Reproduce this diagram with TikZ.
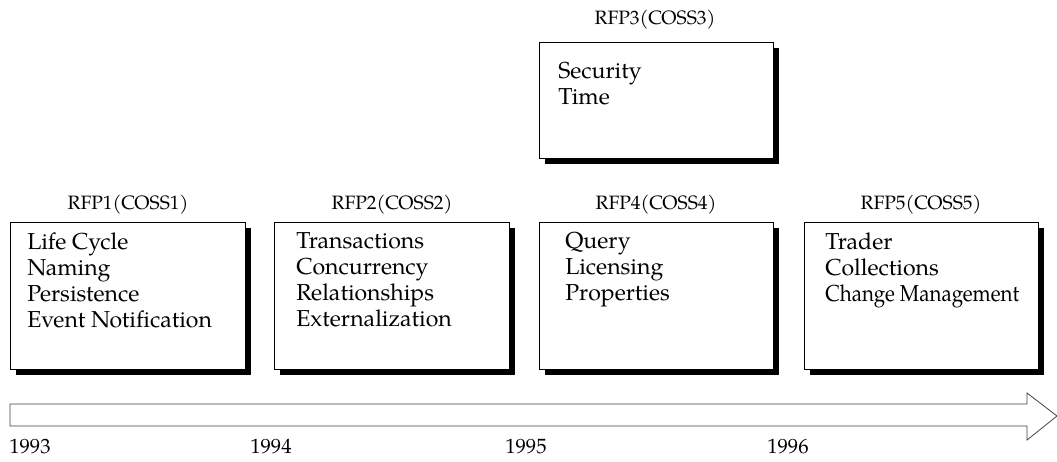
\documentclass[tikz,border=0pt]{standalone}
\usepackage{graphicx}
\usepackage{fontspec}
\setmainfont{TeX Gyre Pagella}
\begin{document}
\begin{tikzpicture}[x=0.75pt,y=-0.75pt,
  box/.style={draw=black, line width=0.9pt, fill=white, rectangle, inner sep=0pt, anchor=north west},
  shadowbox/.style={fill=black, draw=none, rectangle, inner sep=0pt, anchor=north west},
  title/.style={font=\fontsize{14.5}{17}\selectfont, inner sep=0pt},
  items/.style={font=\fontsize{17.3}{19.5}\selectfont, align=left, anchor=north west, inner sep=0pt},
  year/.style={font=\fontsize{15.5}{18}\selectfont, inner sep=0pt, anchor=west}]
\useasboundingbox (0,0) rectangle (1057,461);
% shadows
\foreach \x/\y/\w/\h/\n in {10/222/235/147/s1, 274/222/235/147/s2, 539/222/234/147/s4, 804/222/234/147/s5, 539/42/234/116/s3}{
  \node[shadowbox, minimum width=\w*0.75pt, minimum height=\h*0.75pt] (\n) at (\x+6,\y+6) {};
}
% boxes
\node[box, minimum width=235*0.75pt, minimum height=147*0.75pt] (b1) at (10,222) {};
\node[box, minimum width=235*0.75pt, minimum height=147*0.75pt] (b2) at (274,222) {};
\node[box, minimum width=234*0.75pt, minimum height=147*0.75pt] (b4) at (539,222) {};
\node[box, minimum width=234*0.75pt, minimum height=147*0.75pt] (b5) at (804,222) {};
\node[box, minimum width=234*0.75pt, minimum height=116*0.75pt] (b3) at (539,42) {};
% titles
\node[title] (t1) at (128,205) {RFP1(COSS1)};
\node[title] (t2) at (392,205) {RFP2(COSS2)};
\node[title] (t4) at (656,205) {RFP4(COSS4)};
\node[title] (t5) at (921,205) {RFP5(COSS5)};
\node[title] (t3) at (655,20) {RFP3(COSS3)};
% items
\node[items] (i1) at (27,232) {Life Cycle\\Naming\\Persistence\\Event Notification};
\node[items] (i2) at (296,232) {Transactions\\Concurrency\\Relationships\\Externalization};
\node[items] (i4) at (565,232) {Query\\Licensing\\Properties};
\node[items] (i5) at (825,232) {Trader\\Collections\\\scalebox{0.89}[1]{Change Management}};
\node[items] (i3) at (558,62) {Security\\Time};
% timeline arrow
\draw[line width=0.6pt, draw=black!75] (10,404) coordinate (a0) -- (1027,404) -- (1027,393) -- (1057,416) coordinate (tip) -- (1027,440) -- (1027,426) -- (10,426) -- cycle;
% years
\node[year] (y1) at (9,447) {1993};
\node[year] (y2) at (250,447) {1994};
\node[year] (y3) at (505,447) {1995};
\node[year] (y4) at (767,447) {1996};
\end{tikzpicture}
\end{document}
